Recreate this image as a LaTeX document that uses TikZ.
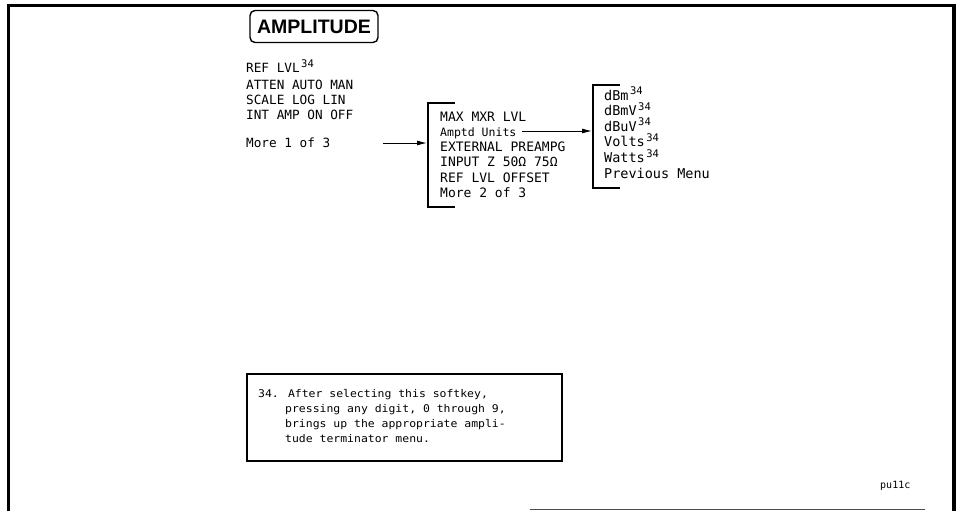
\documentclass[tikz,border=0pt]{standalone}
\usepackage{fontspec}
\setmainfont{Liberation Sans}
\newfontfamily\plotfont{DejaVu Sans Mono}
\newfontfamily\notefont{DejaVu Sans Mono}[FakeStretch=1.08]
\newfontfamily\titlefont{Liberation Sans}
\usetikzlibrary{arrows.meta}
\newcommand\mysup[1]{\hspace{1.5pt}\raisebox{5.5pt}{\plotfont\fontsize{10.5}{10}\selectfont #1}}
\tikzset{
  menuL/.style={anchor=base west, inner sep=0pt, font=\plotfont\fontsize{12.7}{14}\selectfont},
  menuM/.style={anchor=base west, inner sep=0pt, font=\plotfont\fontsize{13}{14}\selectfont},
  menuS/.style={anchor=base west, inner sep=0pt, font=\plotfont\fontsize{11.5}{14}\selectfont},
  menuR/.style={anchor=base west, inner sep=0pt, font=\plotfont\fontsize{13.5}{14}\selectfont},
  note/.style={anchor=base west, inner sep=0pt, font=\notefont\fontsize{10.6}{12}\selectfont},
  bracket/.style={line width=1.4pt},
  arr/.style={line width=1pt, -{Latex[length=10pt,width=5pt]}},
}
\begin{document}
\begin{tikzpicture}[x=1pt,y=-1pt]
\useasboundingbox (0,0) rectangle (960,511);
% frame
\draw[line width=3.5pt] (8.5,511) -- (8.5,5.5) -- (954,5.5) -- (954,511);
\draw[black!70, line width=1pt] (530,509.5) -- (925,509.5);
% title
\node[draw, line width=1.4pt, rounded corners=5pt, minimum width=128pt, minimum height=32pt, inner sep=0pt,
      font=\titlefont\bfseries\fontsize{19.5}{19}\selectfont] (title) at (314,26.5) {AMPLITUDE};
% left menu
\node[menuL] (l1) at (246,73) {REF LVL\mysup{34}};
\node[menuL] (l2) at (246,89) {ATTEN AUTO MAN};
\node[menuL] (l3) at (246,104.5) {SCALE LOG LIN};
\node[menuL] (l4) at (246,119) {INT AMP ON OFF};
\node[menuL] (l5) at (246,147) {More 1 of 3};
% middle bracket
\draw[bracket] (455,103) -- (428,103) -- (428,207) -- (455,207);
\coordinate (b1) at (427,143);
\coordinate (a1) at (383,143);
\node[menuM] (m1) at (440,121) {MAX MXR LVL};
\node[menuS] (m2) at (440,136) {Amptd Units};
\node[menuM] (m3) at (440,151.5) {EXTERNAL PREAMPG};
\node[menuM] (m4) at (440,166.5) {INPUT Z 50Ω 75Ω};
\node[menuM] (m5) at (440,182) {REF LVL OFFSET};
\node[menuM] (m6) at (440,197.5) {More 2 of 3};
\draw[arr] (a1) -- (b1);
% right bracket
\draw[bracket] (620,85) -- (593,85) -- (593,188) -- (620,188);
\coordinate (b2) at (592,131);
\coordinate (a2) at (522,131);
\node[menuR] (r1) at (604,100) {dBm\mysup{34}};
\node[menuR] (r2) at (604,115.5) {dBmV\mysup{34}};
\node[menuR] (r3) at (604,131) {dBuV\mysup{34}};
\node[menuR] (r4) at (604,146.5) {Volts\mysup{34}};
\node[menuR] (r5) at (604,162.5) {Watts\mysup{34}};
\node[menuR] (r6) at (604,178.5) {Previous Menu};
\draw[arr] (a2) -- (b2);
% footnote
\draw[line width=1.4pt] (247,374) rectangle (562,461);
\node[note] (f1) at (258,397) {34. After selecting this softkey,};
\node[note] (f2) at (285,412) {pressing any digit, 0 through 9,};
\node[note] (f3) at (285,427) {brings up the appropriate ampli-};
\node[note] (f4) at (285,442) {tude terminator menu.};
\node[note, font=\plotfont\fontsize{10}{12}\selectfont] (pu) at (880,488) {pu11c};
\end{tikzpicture}
\end{document}
